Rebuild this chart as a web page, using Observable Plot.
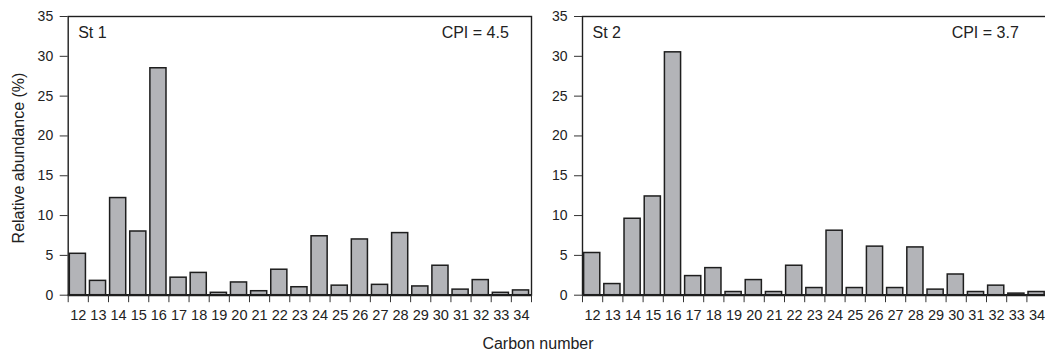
<!DOCTYPE html>
<html><head><meta charset="utf-8">
<script src="https://cdn.jsdelivr.net/npm/d3@7"></script>
<script src="https://cdn.jsdelivr.net/npm/@observablehq/plot@0.6"></script>
<style>
body{margin:0;background:#fff;overflow:hidden}
#wrap{position:relative;width:1045px;height:351px;overflow:hidden;font-family:"Liberation Sans",Arial,sans-serif;color:#222;background:#fff}
#wrap svg{position:absolute;top:0}
#xl{position:absolute;left:0;width:1076px;text-align:center;top:335.5px;font-size:16px;line-height:16px}
#yl{position:absolute;left:19px;top:157.5px;transform:translate(-50%,-50%) rotate(-90deg);white-space:nowrap;font-size:16px;line-height:16px}
</style></head><body><div id="wrap"><div id="xl">Carbon number</div><div id="yl">Relative abundance (%)</div></div>
<script>
const carbon = [12,13,14,15,16,17,18,19,20,21,22,23,24,25,26,27,28,29,30,31,32,33,34];
const st1 = [5.2,1.8,12.2,8.0,28.5,2.2,2.8,0.3,1.6,0.5,3.2,1.0,7.4,1.2,7.0,1.3,7.8,1.1,3.7,0.7,1.9,0.3,0.6];
const st2 = [5.3,1.4,9.6,12.4,30.5,2.4,3.4,0.4,1.9,0.4,3.7,0.9,8.1,0.9,6.1,0.9,6.0,0.7,2.6,0.4,1.2,0.2,0.4];
const panelNames = ["St 1","St 2"];
const cpiLabels = ["CPI = 4.5","CPI = 3.7"];
const yTicks = [0,5,10,15,20,25,30,35];

const ink = "#1e1e1e";
function panel(values, name, cpi, o) {
  const data = carbon.map((c, i) => ({c, v: values[i]}));
  const edges = carbon.map(c => c - 0.5).concat([carbon[carbon.length - 1] + 0.5]);
  return Plot.plot({
    width: o.w, height: 330,
    marginLeft: o.ml, marginRight: o.mr, marginTop: 16, marginBottom: 35.3,
    x: {domain: [carbon[0] - 0.5, carbon[carbon.length - 1] + 0.5]},
    y: {domain: [0, 35]},
    style: {fontFamily: '"Liberation Sans", Arial, sans-serif', fontSize: "14px", color: "#222", background: "transparent", overflow: "visible"},
    marks: [
      Plot.rectY(data, {x1: d => d.c - 0.42, x2: d => d.c + 0.38, y: "v", fill: "#b3b4b8", stroke: ink, strokeWidth: 1.5}),
      Plot.frame({stroke: ink, strokeWidth: 1.4}),
      Plot.ruleY([0], {stroke: ink, strokeWidth: 2.2}),
      Plot.axisY({ticks: yTicks, tickSize: 8, tickPadding: 7, fontSize: 14, stroke: "#333", label: null}),
      Plot.axisX({ticks: edges, tickSize: 7.5, tickFormat: () => "", stroke: "#333", label: null}),
      Plot.axisX({ticks: carbon, tickSize: 0, tickPadding: 14.6, fontSize: 14.5, tickFormat: d => String(d), label: null}),
      Plot.text([name], {text: d => d, frameAnchor: "top-left", dx: 10, dy: 10.5, fontSize: 16, lineAnchor: "top", fill: "#222"}),
      Plot.text([cpi], {text: d => d, frameAnchor: "top-right", dx: o.cdx, dy: 10.5, fontSize: 16, lineAnchor: "top", textAnchor: "end", fill: "#222"})
    ]
  });
}
const wrap = document.getElementById("wrap");
const p1 = panel(st1, panelNames[0], cpiLabels[0], {w: 545, ml: 67.7, mr: 14, cdx: -22.7});
p1.style.left = "0px";
const p2 = panel(st2, panelNames[1], cpiLabels[1], {w: 510, ml: 37, mr: 8.4, cdx: -28.3});
p2.style.left = "545px";
wrap.appendChild(p1);
wrap.appendChild(p2);
</script></body></html>
